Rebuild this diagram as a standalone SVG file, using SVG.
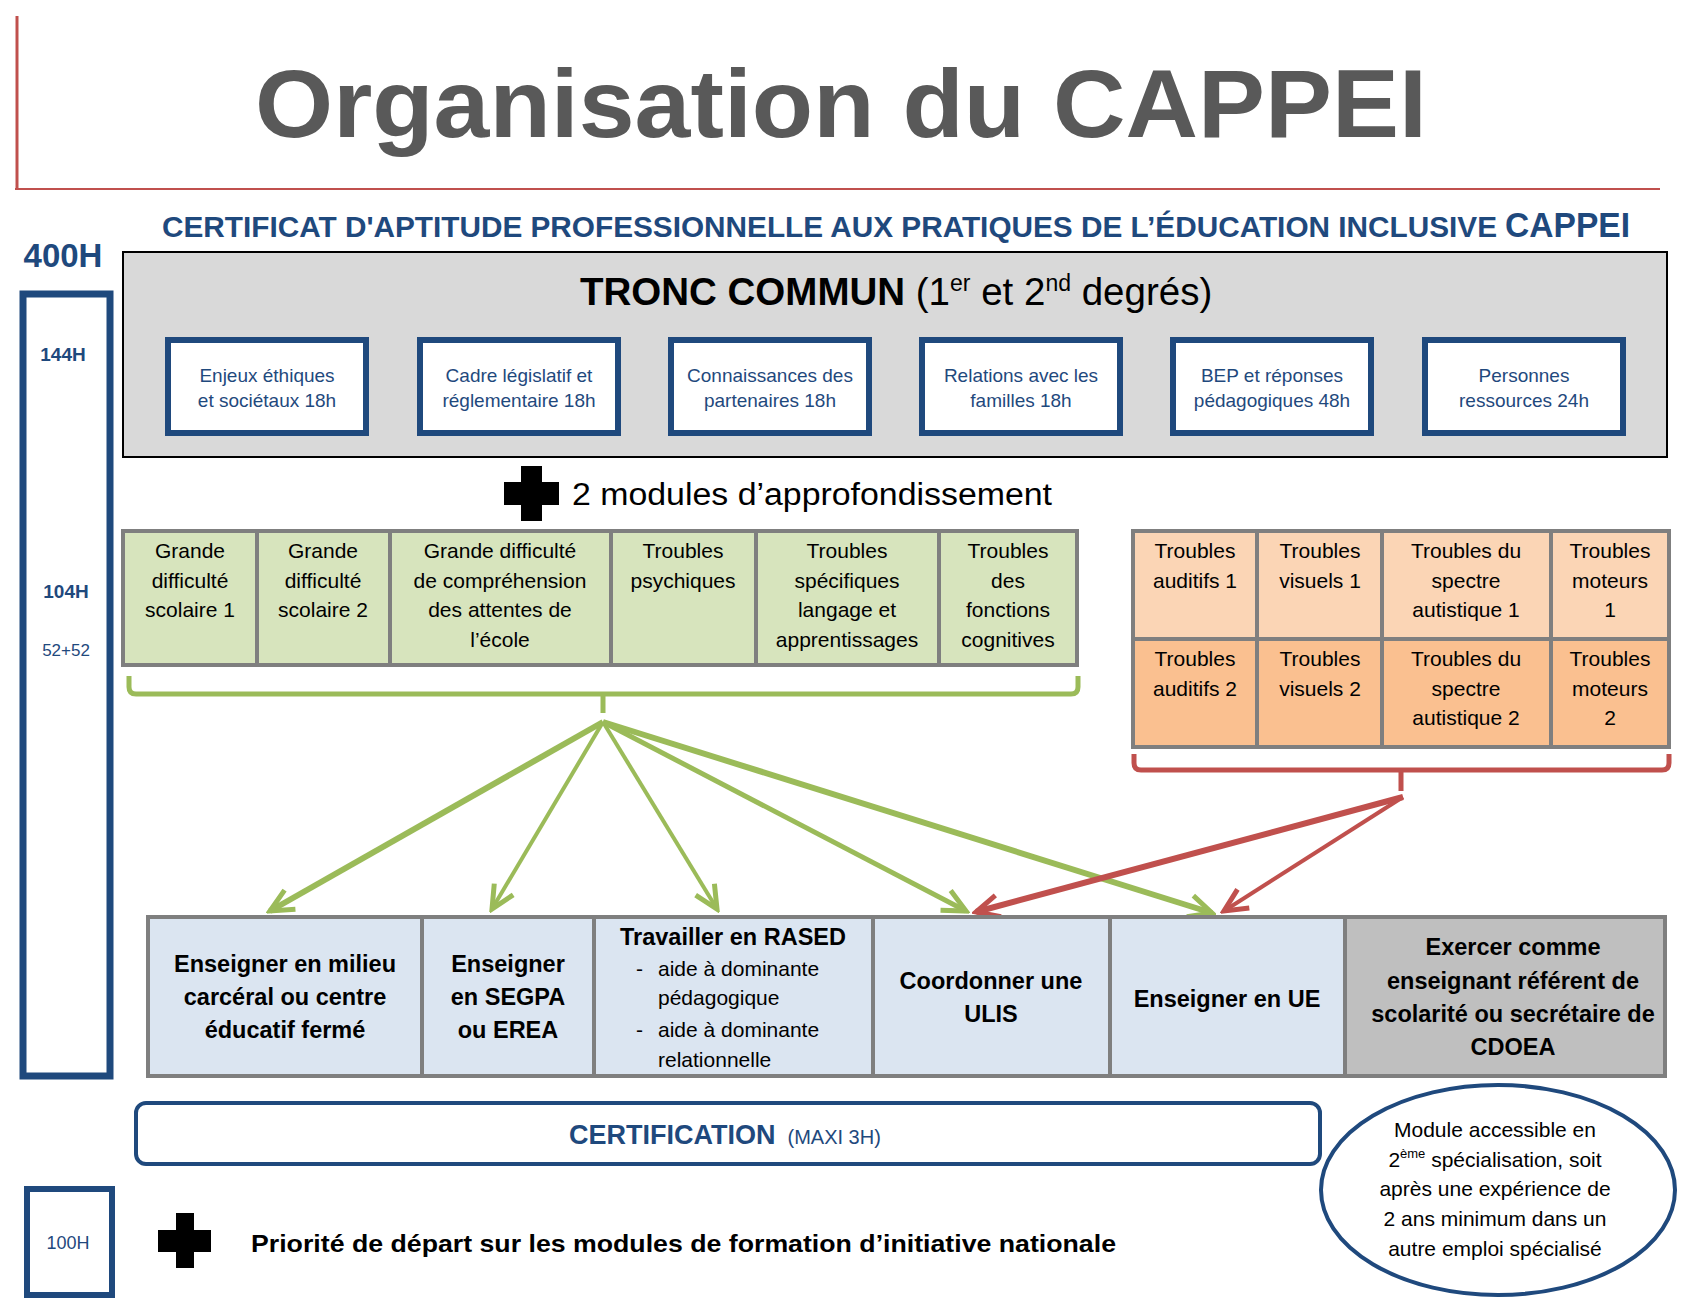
<svg xmlns="http://www.w3.org/2000/svg" width="1689" height="1314" viewBox="0 0 1689 1314">
<style>
text{font-family:"Liberation Sans",Arial,sans-serif}
.blue{fill:#1f497d}
.tc rect{fill:#fff;stroke:#1f497d;stroke-width:6}
.tc text{font-size:19px;fill:#1f497d;text-anchor:middle}
.g rect{fill:#d7e4bd;stroke:#7f7f7f;stroke-width:4}
.o1 rect{fill:#fbd5b5;stroke:#7f7f7f;stroke-width:4}
.o2 rect{fill:#fac090;stroke:#7f7f7f;stroke-width:4}
.cell text{font-size:21px;fill:#000;text-anchor:middle}
.b rect{fill:#dbe5f1;stroke:#7f7f7f;stroke-width:4}
.b text{font-size:23.5px;font-weight:bold;fill:#000;text-anchor:middle}
.b text.n{font-size:21px;font-weight:normal;text-anchor:start}
.ga{stroke:#9bbb59;fill:none}
.ra{stroke:#c0504d;fill:none}
</style>
<defs>
<marker id="mg" viewBox="0 0 30 30" refX="26" refY="15" markerWidth="30" markerHeight="30" markerUnits="userSpaceOnUse" orient="auto">
<path d="M3,4 L26,15 L3,26" fill="none" stroke="#9bbb59" stroke-width="5"/>
</marker>
<marker id="mr" viewBox="0 0 30 30" refX="26" refY="15" markerWidth="30" markerHeight="30" markerUnits="userSpaceOnUse" orient="auto">
<path d="M3,4 L26,15 L3,26" fill="none" stroke="#c0504d" stroke-width="5"/>
</marker>
</defs>
<rect width="1689" height="1314" fill="#fff"/>

<g id="header">
<line x1="17" y1="16" x2="17" y2="190" stroke="#c0504d" stroke-width="3"/>
<line x1="15" y1="189" x2="1660" y2="189" stroke="#c0504d" stroke-width="2"/>
<text x="255" y="137" font-size="96" font-weight="bold" fill="#595959" textLength="1172" lengthAdjust="spacingAndGlyphs">Organisation du CAPPEI</text>
<text y="237" font-weight="bold" class="blue"><tspan x="162" font-size="29" textLength="1335" lengthAdjust="spacingAndGlyphs">CERTIFICAT D'APTITUDE PROFESSIONNELLE AUX PRATIQUES DE L’ÉDUCATION INCLUSIVE</tspan><tspan x="1505" font-size="35" textLength="125" lengthAdjust="spacingAndGlyphs">CAPPEI</tspan></text>
</g>

<g id="hours">
<text x="63" y="267" font-size="33" font-weight="bold" class="blue" text-anchor="middle">400H</text>
<rect x="23" y="294" width="87" height="782" fill="none" stroke="#1f497d" stroke-width="7"/>
<text x="63" y="361" font-size="19" font-weight="bold" class="blue" text-anchor="middle">144H</text>
<text x="66" y="598" font-size="19" font-weight="bold" class="blue" text-anchor="middle">104H</text>
<text x="66" y="656" font-size="17" class="blue" text-anchor="middle">52+52</text>
<rect x="27" y="1189" width="85" height="106" fill="none" stroke="#1f497d" stroke-width="6"/>
<text x="68" y="1249" font-size="18" class="blue" text-anchor="middle">100H</text>
</g>

<g id="tronc-commun">
<rect x="123" y="252" width="1544" height="205" fill="#d9d9d9" stroke="#000" stroke-width="2"/>
<text x="580" y="305" font-size="38.5"><tspan font-weight="bold">TRONC COMMUN</tspan> (1<tspan font-size="23" dy="-14">er</tspan><tspan dy="14"> et 2</tspan><tspan font-size="23" dy="-14">nd</tspan><tspan dy="14"> degrés)</tspan></text>
</g>
<g id="tc1" class="tc"><rect x="168" y="340" width="198" height="93"/><text x="267" y="382">Enjeux éthiques</text><text x="267" y="407">et sociétaux 18h</text></g>
<g id="tc2" class="tc"><rect x="420" y="340" width="198" height="93"/><text x="519" y="382">Cadre législatif et</text><text x="519" y="407">réglementaire 18h</text></g>
<g id="tc3" class="tc"><rect x="671" y="340" width="198" height="93"/><text x="770" y="382">Connaissances des</text><text x="770" y="407">partenaires 18h</text></g>
<g id="tc4" class="tc"><rect x="922" y="340" width="198" height="93"/><text x="1021" y="382">Relations avec les</text><text x="1021" y="407">familles 18h</text></g>
<g id="tc5" class="tc"><rect x="1173" y="340" width="198" height="93"/><text x="1272" y="382">BEP et réponses</text><text x="1272" y="407">pédagogiques 48h</text></g>
<g id="tc6" class="tc"><rect x="1425" y="340" width="198" height="93"/><text x="1524" y="382">Personnes</text><text x="1524" y="407">ressources 24h</text></g>

<g id="modules-title">
<rect x="521" y="466" width="21" height="55" fill="#000"/>
<rect x="504" y="482" width="55" height="23" fill="#000"/>
<text x="572" y="505" font-size="31" textLength="480" lengthAdjust="spacingAndGlyphs">2 modules d’approfondissement</text>
</g>

<g id="g1" class="g cell"><rect x="123" y="531" width="134" height="134"/><text x="190" y="558">Grande</text><text x="190" y="588">difficulté</text><text x="190" y="617">scolaire 1</text></g>
<g id="g2" class="g cell"><rect x="257" y="531" width="133" height="134"/><text x="323" y="558">Grande</text><text x="323" y="588">difficulté</text><text x="323" y="617">scolaire 2</text></g>
<g id="g3" class="g cell"><rect x="390" y="531" width="221" height="134"/><text x="500" y="558">Grande difficulté</text><text x="500" y="588">de compréhension</text><text x="500" y="617">des attentes de</text><text x="500" y="647">l’école</text></g>
<g id="g4" class="g cell"><rect x="611" y="531" width="145" height="134"/><text x="683" y="558">Troubles</text><text x="683" y="588">psychiques</text></g>
<g id="g5" class="g cell"><rect x="756" y="531" width="183" height="134"/><text x="847" y="558">Troubles</text><text x="847" y="588">spécifiques</text><text x="847" y="617">langage et</text><text x="847" y="647">apprentissages</text></g>
<g id="g6" class="g cell"><rect x="939" y="531" width="138" height="134"/><text x="1008" y="558">Troubles</text><text x="1008" y="588">des</text><text x="1008" y="617">fonctions</text><text x="1008" y="647">cognitives</text></g>

<g id="o1" class="o1 cell"><rect x="1133" y="531" width="124" height="108"/><text x="1195" y="558">Troubles</text><text x="1195" y="588">auditifs 1</text></g>
<g id="o2" class="o1 cell"><rect x="1257" y="531" width="125" height="108"/><text x="1320" y="558">Troubles</text><text x="1320" y="588">visuels 1</text></g>
<g id="o3" class="o1 cell"><rect x="1382" y="531" width="169" height="108"/><text x="1466" y="558">Troubles du</text><text x="1466" y="588">spectre</text><text x="1466" y="617">autistique 1</text></g>
<g id="o4" class="o1 cell"><rect x="1551" y="531" width="118" height="108"/><text x="1610" y="558">Troubles</text><text x="1610" y="588">moteurs</text><text x="1610" y="617">1</text></g>
<g id="o5" class="o2 cell"><rect x="1133" y="639" width="124" height="108"/><text x="1195" y="666">Troubles</text><text x="1195" y="696">auditifs 2</text></g>
<g id="o6" class="o2 cell"><rect x="1257" y="639" width="125" height="108"/><text x="1320" y="666">Troubles</text><text x="1320" y="696">visuels 2</text></g>
<g id="o7" class="o2 cell"><rect x="1382" y="639" width="169" height="108"/><text x="1466" y="666">Troubles du</text><text x="1466" y="696">spectre</text><text x="1466" y="725">autistique 2</text></g>
<g id="o8" class="o2 cell"><rect x="1551" y="639" width="118" height="108"/><text x="1610" y="666">Troubles</text><text x="1610" y="696">moteurs</text><text x="1610" y="725">2</text></g>

<g id="connectors">
<path class="ga" stroke-width="5" d="M129,676 L129,687 Q129,694 136,694 L1071,694 Q1078,694 1078,687 L1078,676 M603,694 L603,713"/>
<path class="ra" stroke-width="5" d="M1134,754 L1134,763 Q1134,770 1141,770 L1662,770 Q1669,770 1669,763 L1669,754 M1401,770 L1401,791"/>
<line class="ga" stroke-width="6" x1="603" y1="722" x2="270" y2="911" marker-end="url(#mg)"/>
<line class="ga" stroke-width="4" x1="603" y1="722" x2="492" y2="909" marker-end="url(#mg)"/>
<line class="ga" stroke-width="4" x1="603" y1="722" x2="717" y2="909" marker-end="url(#mg)"/>
<line class="ga" stroke-width="5" x1="603" y1="722" x2="966" y2="911" marker-end="url(#mg)"/>
<line class="ga" stroke-width="6" x1="603" y1="722" x2="1212" y2="913" marker-end="url(#mg)"/>
<line class="ra" stroke-width="6" x1="1403" y1="797" x2="976" y2="912" marker-end="url(#mr)"/>
<line class="ra" stroke-width="4" x1="1403" y1="797" x2="1224" y2="911" marker-end="url(#mr)"/>
</g>

<g id="b1" class="b"><rect x="148" y="917" width="274" height="159"/><text x="285" y="972">Enseigner en milieu</text><text x="285" y="1005">carcéral ou centre</text><text x="285" y="1038">éducatif fermé</text></g>
<g id="b2" class="b"><rect x="422" y="917" width="172" height="159"/><text x="508" y="972">Enseigner</text><text x="508" y="1005">en SEGPA</text><text x="508" y="1038">ou EREA</text></g>
<g id="b3" class="b"><rect x="594" y="917" width="279" height="159"/><text x="733" y="945">Travailler en RASED</text>
<text class="n" x="636" y="976">-</text><text class="n" x="658" y="976">aide à dominante</text>
<text class="n" x="658" y="1005">pédagogique</text>
<text class="n" x="636" y="1037">-</text><text class="n" x="658" y="1037">aide à dominante</text>
<text class="n" x="658" y="1067">relationnelle</text>
</g>
<g id="b4" class="b"><rect x="873" y="917" width="237" height="159"/><text x="991" y="989">Coordonner une</text><text x="991" y="1022">ULIS</text></g>
<g id="b5" class="b"><rect x="1110" y="917" width="235" height="159"/><text x="1227" y="1007">Enseigner en UE</text></g>
<g id="b6" class="b"><rect x="1345" y="917" width="320" height="159" style="fill:#bfbfbf"/><text x="1513" y="955">Exercer comme</text><text x="1513" y="989">enseignant référent de</text><text x="1513" y="1022">scolarité ou secrétaire de</text><text x="1513" y="1055">CDOEA</text></g>

<g id="certification">
<rect x="136" y="1103" width="1184" height="61" rx="10" fill="#fff" stroke="#1f497d" stroke-width="4"/>
<text x="569" y="1144" class="blue"><tspan font-size="27" font-weight="bold">CERTIFICATION</tspan><tspan font-size="20" dx="12">(MAXI 3H)</tspan></text>
</g>

<g id="note">
<ellipse cx="1498" cy="1190" rx="177" ry="105" fill="#fff" stroke="#1f497d" stroke-width="4"/>
<g font-size="21" text-anchor="middle" fill="#000">
<text x="1495" y="1137">Module accessible en</text>
<text x="1495" y="1167">2<tspan font-size="13" dy="-9">ème</tspan><tspan dy="9"> spécialisation, soit</tspan></text>
<text x="1495" y="1196">après une expérience de</text>
<text x="1495" y="1226">2 ans minimum dans un</text>
<text x="1495" y="1256">autre emploi spécialisé</text>
</g>
</g>

<g id="priority">
<rect x="176" y="1213" width="18" height="55" fill="#000"/>
<rect x="158" y="1230" width="53" height="22" fill="#000"/>
<text x="251" y="1252" font-size="24" font-weight="bold" textLength="865" lengthAdjust="spacingAndGlyphs">Priorité de départ sur les modules de formation d’initiative nationale</text>
</g>
</svg>
